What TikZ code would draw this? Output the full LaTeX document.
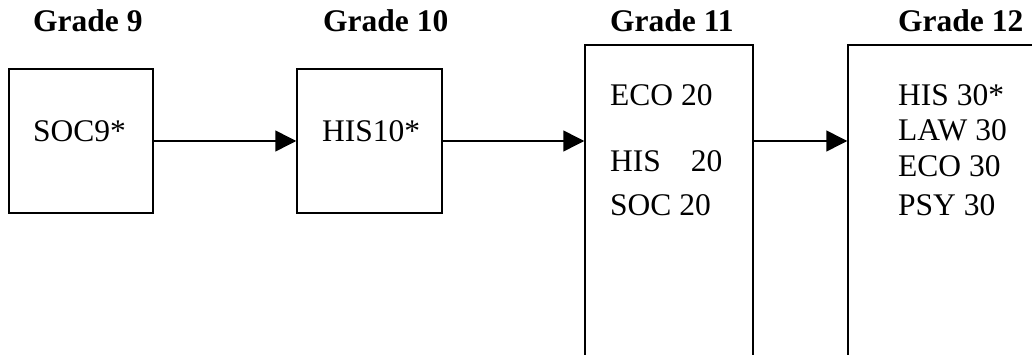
\documentclass[tikz,border=0pt]{standalone}
\usepackage{fontspec}
\setmainfont{Liberation Serif}
\usetikzlibrary{arrows.meta}
\begin{document}
\begin{tikzpicture}[x=1pt,y=-1pt,
  box/.style={draw,line width=1.5pt,inner sep=0pt},
  title/.style={anchor=base west,inner sep=0pt,font=\fontsize{31.5}{36}\selectfont\bfseries},
  txt/.style={anchor=base west,inner sep=0pt,font=\fontsize{31.5}{36}\selectfont},
  conn/.style={line width=1.5pt,-{Triangle[length=21pt,width=21pt]}}]
\useasboundingbox (0,0) rectangle (1032,355);
\clip (0,0) rectangle (1032,355);
% boxes
\node[box,minimum width=144pt,minimum height=144pt] (b9) at (81,141) {};
\node[box,minimum width=145pt,minimum height=144pt] (b10) at (369.5,141) {};
\node[box,minimum width=168pt,minimum height=355pt] (b11) at (669,222.5) {};
\node[box,minimum width=262pt,minimum height=355pt] (b12) at (979,222.5) {};
% titles
\node[title] (t9) at (33,32) {Grade 9};
\node[title] (t10) at (323,32) {Grade 10};
\node[title] (t11) at (610,32) {Grade 11};
\node[title] (t12) at (898,32) {Grade 12};
% contents
\node[txt] (c9) at (33,142) {SOC9*};
\node[txt] (c10) at (322,142) {HIS10*};
\node[txt] (c11a) at (610,106) {ECO 20};
\node[txt] (c11b) at (610,172) {HIS\hspace{0.95em}20};
\node[txt] (c11c) at (610,215) {SOC 20};
\node[txt] (c12a) at (898,106) {HIS 30*};
\node[txt] (c12b) at (898,141) {LAW 30};
\node[txt] (c12c) at (898,177) {ECO 30};
\node[txt] (c12d) at (898,215) {PSY 30};
% connectors
\draw[conn] (b9.east) -- (b10.west);
\draw[conn] (b10.east) -- (b10.east -| b11.west);
\draw[conn] (b10.east -| b11.east) -- (b10.east -| b12.west);
\end{tikzpicture}
\end{document}
